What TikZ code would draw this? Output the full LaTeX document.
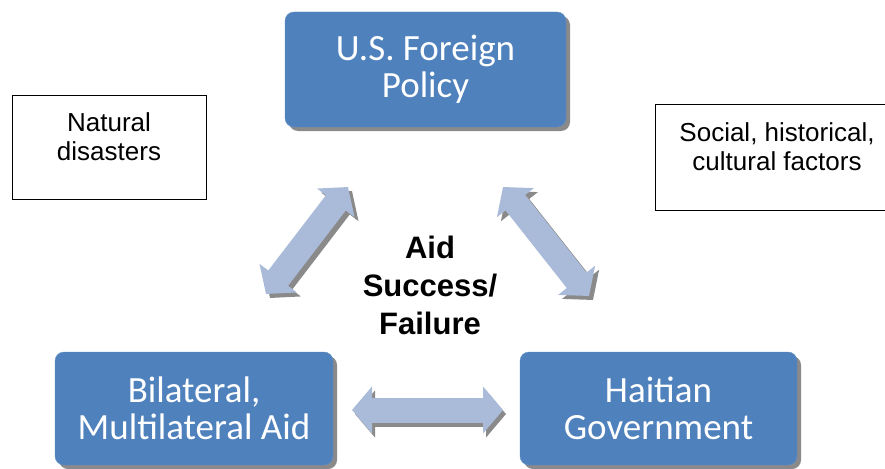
\documentclass[tikz,border=0pt]{standalone}
\usepackage{fontspec}
\setmainfont{Liberation Sans}
\newfontfamily\calibfont{Carlito}
\usetikzlibrary{arrows.meta,shadows}
\definecolor{boxblue}{HTML}{4F81BD}
\definecolor{arrowblue}{HTML}{AABBD9}
\definecolor{shadowgray}{HTML}{8A8A8A}
\tikzset{
  bluebox/.style={rounded corners=9pt, fill=boxblue, draw=boxblue!90!white, text=white,
    align=center, font=\calibfont\fontsize{37}{37}\selectfont,
    drop shadow={shadow xshift=4pt, shadow yshift=-4pt, fill=shadowgray, opacity=1}},
  plainbox/.style={draw=black, line width=1pt, fill=white},
  plaintext/.style={align=center, font=\fontsize{26}{29}\selectfont, anchor=north},
  fatarrow/.style={line width=25pt, draw=arrowblue,
    {Triangle[width=46pt,length=20pt]}-{Triangle[width=46pt,length=20pt]}},
  fatshadow/.style={line width=25pt, draw=shadowgray,
    {Triangle[width=46pt,length=20pt]}-{Triangle[width=46pt,length=20pt]}},
}
\begin{document}
\begin{tikzpicture}[x=1pt,y=-1pt]
\useasboundingbox (0,0) rectangle (885,468);
% blue boxes
\node[bluebox, minimum width=281pt, minimum height=115pt] (usfp) at (425.5,69.5) {U.S. Foreign\\Policy};
\node[bluebox, minimum width=278pt, minimum height=113pt] (aid) at (194,408.5) {Bilateral,\\Multilateral Aid};
\node[bluebox, minimum width=277pt, minimum height=113pt] (hg) at (658.5,408.5) {Haitian\\Government};
% plain boxes
\node[plainbox, minimum width=194pt, minimum height=103pt] (natbox) at (109,147.5) {};
\node[plaintext] (nattext) at (109,109) {Natural\\disasters};
\node[plainbox, minimum width=240pt, minimum height=105pt] (socbox) at (775,157.5) {};
\node[plaintext] (soctext) at (777,119) {Social, historical,\\cultural factors};
% center text
\node[align=center, font=\bfseries\fontsize{31}{38}\selectfont] (center) at (430,285) {Aid\\Success/\\Failure};
% arrow end points
\coordinate (l1) at (266,294);
\coordinate (l2) at (348,187);
\coordinate (r1) at (503,187);
\coordinate (r2) at (589,296);
\coordinate (h1) at (352,410);
\coordinate (h2) at (503,410);
% shadows
\draw[fatshadow] ([shift={(4,4)}]l1) -- ([shift={(4,4)}]l2);
\draw[fatshadow] ([shift={(4,4)}]r1) -- ([shift={(4,4)}]r2);
\draw[fatshadow] ([shift={(3,4)}]h1) -- ([shift={(3,4)}]h2);
% arrows
\draw[fatarrow] (l1) -- (l2);
\draw[fatarrow] (r1) -- (r2);
\draw[fatarrow] (h1) -- (h2);
\end{tikzpicture}
\end{document}
